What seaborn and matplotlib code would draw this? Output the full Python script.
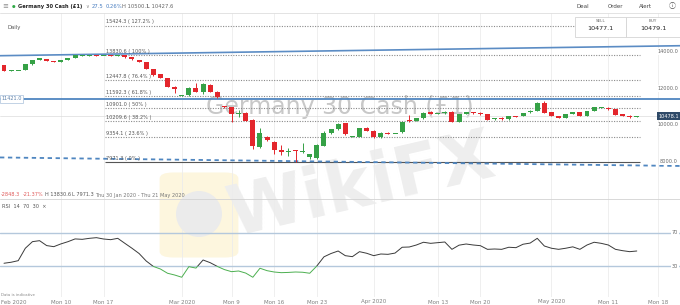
import matplotlib
matplotlib.use("Agg")
import matplotlib.pyplot as plt
import matplotlib.transforms as mtransforms
from matplotlib.patches import Rectangle, FancyBboxPatch, Ellipse
import numpy as np
import pandas as pd
import seaborn as sns

sns.set_theme(style="white")
plt.rcParams["font.family"] = ["DejaVu Sans", "Noto Sans CJK SC"]

# ---------------- data ----------------
opens = [13270, 12975, 12990, 13000, 13310, 13540, 13600, 13480, 13450, 13540,
         13670, 13780, 13790, 13825, 13810, 13800, 13760, 13815, 13690, 13560,
         13420, 13050, 12780, 12545, 12090, 11600, 11640, 12030, 11780, 12180,
         11815, 11035, 10980, 10600, 10640, 10250, 8820, 9330, 9090, 8640,
         8560, 8620, 8570, 8270, 8185, 8855, 9545, 9765, 10090, 9350,
         9360, 9820, 9690, 9330, 9580, 9550, 9600, 10240, 10220, 10365,
         10725, 10610, 10640, 10725, 10180, 10600, 10670, 10640, 10600, 10310,
         10370, 10310, 10490, 10490, 10690, 10760, 11215, 10690, 10490, 10400,
         10600, 10690, 10490, 10780, 10930, 10920, 10855, 10600, 10505, 10450.6]
highs = [13300, 12990, 13005, 13320, 13550, 13660, 13620, 13490, 13560, 13680,
         13810, 13810, 13828, 13830.6, 13825, 13815, 13826, 13825, 13700, 13570,
         13430, 13080, 12800, 12560, 12110, 11610, 12050, 12290, 12290, 12220,
         11840, 11060, 11000, 10800, 10700, 10350, 9850, 9400, 9120, 8910,
         8750, 8650, 9000, 8420, 8950, 9650, 9780, 10100, 10120, 9380,
         9830, 9900, 9710, 9600, 9600, 9570, 10190, 10540, 10380, 10700,
         10760, 10640, 10740, 10760, 10610, 10700, 10720, 10720, 10620, 10380,
         10450, 10500, 10510, 10680, 10800, 11230, 11300, 10710, 10500, 10590,
         10700, 10710, 10790, 10980, 10980, 11000, 10870, 10620, 10520, 10500.1]
lows = [12930, 12965, 12985, 12990, 13300, 13530, 13480, 13455, 13440, 13530,
        13660, 13770, 13780, 13790, 13800, 13750, 13750, 13680, 13570, 13440,
        13040, 12670, 12560, 12080, 11750, 11590, 11600, 11780, 11700, 11780,
        11480, 10940, 10180, 10450, 10200, 8700, 8730, 9150, 8400, 8365,
        8330, 7971.3, 8450, 8150, 8150, 8840, 9500, 9740, 9480, 9330,
        9340, 9680, 9310, 9300, 9490, 9540, 9580, 10180, 10200, 10350,
        10580, 10600, 10620, 10170, 10150, 10580, 10600, 10560, 10250, 10280,
        10300, 10290, 10410, 10470, 10680, 10740, 10650, 10490, 10390, 10380,
        10590, 10480, 10470, 10760, 10910, 10820, 10530, 10500, 10400, 10427.6]
closes = [12940, 12985, 13000, 13310, 13540, 13650, 13490, 13460, 13540, 13670,
          13800, 13800, 13820, 13800, 13815, 13760, 13820, 13690, 13580, 13450,
          13050, 12725, 12575, 12090, 11960, 11605, 12000, 11815, 12220, 11815,
          11530, 10965, 10600, 10620, 10235, 8860, 9580, 9180, 8640, 8545,
          8590, 8560, 8590, 8400, 8920, 9580, 9765, 10055, 9510, 9365,
          9820, 9690, 9330, 9580, 9510, 9565, 10180, 10220, 10365, 10670,
          10600, 10625, 10725, 10180, 10600, 10690, 10650, 10620, 10270, 10365,
          10355, 10490, 10420, 10670, 10780, 11215, 10670, 10510, 10400, 10580,
          10690, 10490, 10780, 10965, 10965, 10905, 10545, 10510, 10420, 10478.1]
rsi_values = [33.3, 34.5, 36.4, 51.3, 59.2, 60.4, 54.5, 53.2, 56.5, 59.2,
              62.5, 62.0, 63.2, 64.0, 62.4, 61.6, 63.2, 57.2, 51.3, 45.0,
              36.0, 29.5, 26.4, 21.3, 19.2, 16.5, 29.2, 27.5, 37.2, 34.0,
              29.5, 25.7, 23.2, 24.0, 21.5, 16.5, 27.3, 24.4, 22.8, 22.0,
              22.3, 22.8, 22.5, 21.3, 30.0, 41.0, 45.0, 48.0, 42.4, 41.2,
              47.2, 45.3, 42.4, 44.4, 44.0, 45.5, 52.5, 52.8, 55.2, 58.5,
              57.2, 58.0, 58.8, 50.0, 55.0, 56.4, 55.2, 54.4, 50.0, 50.4,
              50.0, 52.5, 52.0, 56.1, 57.5, 63.2, 54.0, 51.3, 50.0, 51.3,
              53.0, 50.0, 55.2, 58.5, 57.2, 55.2, 50.0, 48.4, 47.2, 48.0]
tick_positions = [-0.45, 8, 14, 25, 32, 38, 44, 52, 61, 67, 77, 85, 92]
tick_labels = ["Feb 2020", "Mon 10", "Mon 17", "Mar 2020", "Mon 9", "Mon 16", "Mon 23",
               "Apr 2020", "Mon 13", "Mon 20", "May 2020", "Mon 11", "Mon 18"]
fib_levels = [15424.3, 13830.6, 12447.8, 11592.3, 10901.0, 10209.6, 9354.1, 7971.3]
fib_pcts = ["127.2%", "100%", "76.4%", "61.8%", "50%", "38.2%", "23.6%", "0%"]
support_level = 11421.0
upper_trend = [13780, 14325]
lower_trend = [8230, 7765]
price_ticks = [8000.0, 10000.0, 12000.0, 14000.0]
rsi_levels = [70, 30]
last_price = 10478.1
sell_price, buy_price = "10477.1", "10479.1"

# ---------------- layout ----------------
W, H = 680, 305
fig = plt.figure(figsize=(6.8, 3.05), dpi=100, facecolor="white")

def fy(p):
    return 1 - p / H

XL = (-0.5626, 95.08)
ax = fig.add_axes([0, fy(199), 1, (199 - 13) / H])
rx = fig.add_axes([0, fy(297), 1, (297 - 199) / H])
for a in (ax, rx):
    a.set_facecolor("none")
    a.set_xlim(XL)
    for s in a.spines.values():
        s.set_visible(False)
    a.set_yticks([])
ax.set_ylim(5963, 16110)
ax.set_xticks([])

GREEN, RED = "#35a146", "#e3262c"

# vertical grid
for p in tick_positions[1:]:
    ax.axvline(p, color="#ececec", lw=0.6, zorder=0)
    rx.axvline(p, color="#ececec", lw=0.6, zorder=0)

# watermarks (figure level, behind axes)
fig.text(362 / W, fy(186), "WikiFX", rotation=13, fontsize=50, fontweight="bold",
         color="#eeeeee", ha="center", va="center", zorder=-2)
logo = FancyBboxPatch((163 / W, fy(256)), 72 / W, 82 / H,
                      boxstyle="round,pad=0.005,rounding_size=0.02",
                      transform=fig.transFigure, fc="#fdf6de", ec="none", zorder=-3)
fig.add_artist(logo)
fig.add_artist(Ellipse((199 / W, fy(214)), 46 / W, 46 / H, transform=fig.transFigure,
                       fc="#ebebeb", ec="none", zorder=-2.5))

bt = mtransforms.blended_transform_factory(ax.transAxes, ax.transData)
ax.text(0.5, 10980, "Germany 30 Cash (£1)", transform=bt,
        ha="center", va="center", fontsize=17, color="#c8c8c8", zorder=1)

# price line
ax.axhline(last_price, color="#dcdcdc", lw=0.5, zorder=1)

# fib retracement
fib_start = (105 - 4) / 7.11
fib_end = (640 - 4) / 7.11
for lvl, pct in zip(fib_levels, fib_pcts):
    if pct == "0%":
        ax.hlines(lvl, fib_start, fib_end, colors="#555555", lw=0.8, zorder=2)
    else:
        ax.hlines(lvl, fib_start, fib_end, colors="#8a8a8a", lw=0.8,
                  linestyles=(0, (1, 1.3)), zorder=2)
    ax.annotate(f"{lvl:.1f} ( {pct} )", (fib_start, lvl), xytext=(1, 0.8),
                textcoords="offset points", ha="left", va="bottom",
                fontsize=3.6, color="#555555", zorder=3)

# trend lines
ax.plot(XL, upper_trend, color="#5b8cc4", lw=1.2, zorder=2)
ax.axhline(support_level, color="#4f86c0", lw=1.3, zorder=2)
ax.plot(XL, lower_trend, color="#4f86c0", lw=1.3, ls=(0, (2.4, 2.0)), zorder=2)

# candles
df = pd.DataFrame({"o": opens, "h": highs, "l": lows, "c": closes})
df["x"] = np.arange(len(df))
df["col"] = np.where(df["c"] >= df["o"], GREEN, RED)
ax.vlines(df["x"], df["l"], df["h"], colors=df["col"], lw=0.7, zorder=4)
body = (df["c"] - df["o"]).abs()
hgt = np.maximum(body, 55)
bot = np.minimum(df["o"], df["c"]) - (hgt - body) / 2
ax.bar(df["x"], hgt, bottom=bot, width=0.7, color=df["col"], edgecolor="none", zorder=5)

# right price labels
for v in price_ticks:
    ax.text(678 / W, v, f"{v:.1f}", transform=bt, ha="right", va="center",
            fontsize=3.6, color="#666666", zorder=6,
            bbox=dict(boxstyle="square,pad=0.15", fc="white", ec="none"))
ax.text(679 / W, last_price, f"{last_price:.1f}", transform=bt, ha="right", va="center",
        fontsize=3.6, color="white", zorder=7,
        bbox=dict(boxstyle="square,pad=0.35", fc="#2f4a68", ec="none"))
ax.text(1 / W, support_level, f"{support_level:.1f}", transform=bt, ha="left", va="center",
        fontsize=3.6, color="#5b7fa8", zorder=7,
        bbox=dict(boxstyle="square,pad=0.3", fc="white", ec="#a9c1db", lw=0.5))

# RSI panel
rt = mtransforms.blended_transform_factory(rx.transAxes, rx.transData)
for lv in rsi_levels:
    rx.axhline(lv, color="#b4c8dc", lw=1.0, zorder=1)
    rx.text(678 / W, lv, f"{lv}", transform=rt, ha="right", va="center", fontsize=3.6,
            color="#666666", zorder=6, bbox=dict(boxstyle="square,pad=0.15", fc="white", ec="none"))
rsi_df = pd.DataFrame({"x": np.arange(len(rsi_values)), "rsi": rsi_values})
sns.lineplot(data=rsi_df, x="x", y="rsi", ax=rx, color="#3a3a3a", lw=0.7, zorder=3)
rx.set_xlabel("")
rx.set_ylabel("")
dark_line = rx.lines[-1]
dark_line.set_clip_path(Rectangle((-5, 30), 120, 100, transform=rx.transData))
g, = rx.plot(rsi_df["x"], rsi_df["rsi"], color="#4caf50", lw=0.7, zorder=3)
g.set_clip_path(Rectangle((-5, -20), 120, 50, transform=rx.transData))
rx.set_xticks(tick_positions)
rx.set_xticklabels(tick_labels, fontsize=4, color="#808080")
rx.tick_params(axis="x", length=0, pad=1.8)
rx.get_xticklabels()[0].set_horizontalalignment("left")
rx.set_ylim(-7.2, 110.4)
rx.set_xlim(XL)

# separators
fig.add_artist(plt.Line2D([0, 1], [fy(13), fy(13)], transform=fig.transFigure, color="#dedede", lw=0.6))
fig.add_artist(plt.Line2D([0, 1], [fy(199.3), fy(199.3)], transform=fig.transFigure, color="#d2d2d2", lw=0.6))

# header
fig.text(2 / W, fy(6.7), "≡", fontsize=5, color="#8a8a8a", va="center")
fig.text(11.5 / W, fy(6.7), "●", fontsize=3, color="#2fa845", va="center")
fig.text(18 / W, fy(6.7), "Germany 30 Cash (£1)", fontsize=3.7, fontweight="bold", color="#222222", va="center")
fig.text(85 / W, fy(6.7), "∨", fontsize=3.6, color="#8a8a8a", va="center")
fig.text(92 / W, fy(6.7), "27.5", fontsize=3.8, color="#4a7fc1", va="center")
fig.text(106 / W, fy(6.7), "0.26%", fontsize=3.8, color="#4a7fc1", va="center")
fig.text(122 / W, fy(6.7), "H 10500.1", fontsize=3.8, color="#666666", va="center")
fig.text(147 / W, fy(6.7), "L 10427.6", fontsize=3.8, color="#666666", va="center")
fig.text(7 / W, fy(27), "Daily", fontsize=3.8, color="#555555", va="center")
for xx, t in [(583, "Deal"), (615, "Order"), (645, "Alert")]:
    fig.text(xx / W, fy(6), t, fontsize=4, color="#444444", ha="center", va="center")
fig.text(672 / W, fy(6), "ⓘ", fontsize=5, color="#555555", ha="center", va="center",
         family=["Noto Sans CJK SC", "DejaVu Sans"])

for x0, w, lab, val in [(575, 51, "SELL", sell_price), (626, 54, "BUY", buy_price)]:
    fig.add_artist(Rectangle((x0 / W, fy(36.5)), w / W, 20 / H, transform=fig.transFigure,
                             fc="white", ec="#d4d4d4", lw=0.6, zorder=8))
    fig.text((x0 + w / 2) / W, fy(20.5), lab, fontsize=3, color="#666666", ha="center", va="center", zorder=9)
    fig.text((x0 + w / 2) / W, fy(28), val, fontsize=4.6, color="#222222", ha="center", va="center", zorder=9)

# info row and RSI caption
fig.text(1 / W, fy(195), "-2848.3", fontsize=3.6, color="#e05a5a", va="center")
fig.text(23 / W, fy(195), "-21.37%", fontsize=3.6, color="#e05a5a", va="center")
fig.text(45 / W, fy(195), "H 13830.6", fontsize=3.6, color="#555555", va="center")
fig.text(72 / W, fy(195), "L 7971.3", fontsize=3.6, color="#555555", va="center")
fig.text(95 / W, fy(195), "Thu 30 Jan 2020 - Thu 21 May 2020", fontsize=3.6, color="#777777", va="center")
fig.text(2 / W, fy(207), "RSI  14  70  30  ×", fontsize=3.6, color="#555555", va="center")
fig.text(1 / W, fy(295), "Data is indicative", fontsize=2.8, color="#888888", va="center")

fig.savefig("out.png", dpi=100, facecolor="white")
